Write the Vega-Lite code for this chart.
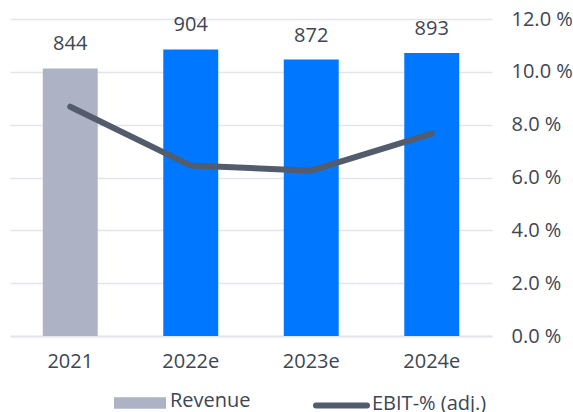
{
  "$schema": "https://vega.github.io/schema/vega-lite/v6.json",
  "width": 482,
  "height": 317,
  "autosize": {"type": "none"},
  "padding": {"left": 10, "top": 19, "right": 81, "bottom": 76},
  "background": "white",
  "config": {
    "view": {"stroke": null},
    "font": "Open Sans",
    "text": {"font": "Open Sans"}
  },
  "data": {
    "values": [
      {"year": "2021", "revenue": 844, "ebit": 8.68, "kind": "Revenue"},
      {"year": "2022e", "revenue": 904, "ebit": 6.45, "kind": "Revenue e"},
      {"year": "2023e", "revenue": 872, "ebit": 6.26, "kind": "Revenue e"},
      {"year": "2024e", "revenue": 893, "ebit": 7.66, "kind": "Revenue e"}
    ]
  },
  "encoding": {
    "x": {
      "field": "year",
      "type": "nominal",
      "sort": null,
      "scale": {"paddingInner": 0.544, "paddingOuter": 0.272},
      "axis": {
        "title": null,
        "labelAngle": 0,
        "ticks": false,
        "domainColor": "#e3e5ea",
        "domainWidth": 2,
        "labelFontSize": 20,
        "labelColor": "#3d4652",
        "labelPadding": 15,
        "labelFont": "Open Sans"
      }
    }
  },
  "layer": [
    {
      "mark": {"type": "bar"},
      "encoding": {
        "y": {
          "field": "revenue",
          "type": "quantitative",
          "scale": {"domain": [0, 1000]},
          "axis": null
        },
        "fill": {
          "field": "kind",
          "type": "nominal",
          "scale": {"domain": ["Revenue", "Revenue e"], "range": ["#adb3c4", "#0077ff"]},
          "legend": {
            "values": ["Revenue"],
            "title": null,
            "orient": "none",
            "legendX": 104,
            "legendY": 358,
            "symbolType": "M-1,-0.22H1V0.22H-1Z",
            "symbolSize": 2704,
            "symbolStrokeWidth": 0,
            "labelFontSize": 20,
            "labelColor": "#3d4652",
            "labelFont": "Open Sans",
            "labelOffset": 4,
            "padding": 0,
            "encode": {"labels": {"update": {"dy": {"value": -2}}}}
          }
        }
      }
    },
    {
      "mark": {"type": "text", "baseline": "alphabetic", "dy": -18, "fontSize": 20, "color": "#3d4652"},
      "encoding": {
        "y": {"field": "revenue", "type": "quantitative", "scale": {"domain": [0, 1000]}, "axis": null},
        "text": {"field": "revenue", "type": "quantitative"}
      }
    },
    {
      "mark": {"type": "line", "strokeWidth": 6, "strokeCap": "round", "strokeJoin": "round"},
      "encoding": {
        "y": {
          "field": "ebit",
          "type": "quantitative",
          "scale": {"domain": [0, 12]},
          "axis": {
            "orient": "right",
            "title": null,
            "values": [0, 2, 4, 6, 8, 10, 12],
            "labelExpr": "format(datum.value, '.1f') + ' %'",
            "ticks": false,
            "domain": false,
            "grid": true,
            "gridColor": "#e3e5ea",
            "gridWidth": 1.5,
            "labelFontSize": 20,
            "labelColor": "#3d4652",
            "labelFont": "Open Sans",
            "labelPadding": 19,
            "labelAlign": "left"
          }
        },
        "stroke": {
          "datum": "EBIT-% (adj.)",
          "scale": {"range": ["#535c6c"]},
          "legend": {
            "title": null,
            "orient": "none",
            "legendX": 303,
            "legendY": 358,
            "symbolType": "stroke",
            "symbolSize": 2601,
            "symbolStrokeWidth": 6,
            "labelFontSize": 20,
            "labelColor": "#3d4652",
            "labelFont": "Open Sans",
            "labelOffset": 2,
            "padding": 0,
            "encode": {
              "symbols": {"update": {"strokeCap": {"value": "round"}}},
              "labels": {"update": {"dy": {"value": -2}}}
            }
          }
        }
      }
    }
  ],
  "resolve": {"scale": {"y": "independent"}}
}
